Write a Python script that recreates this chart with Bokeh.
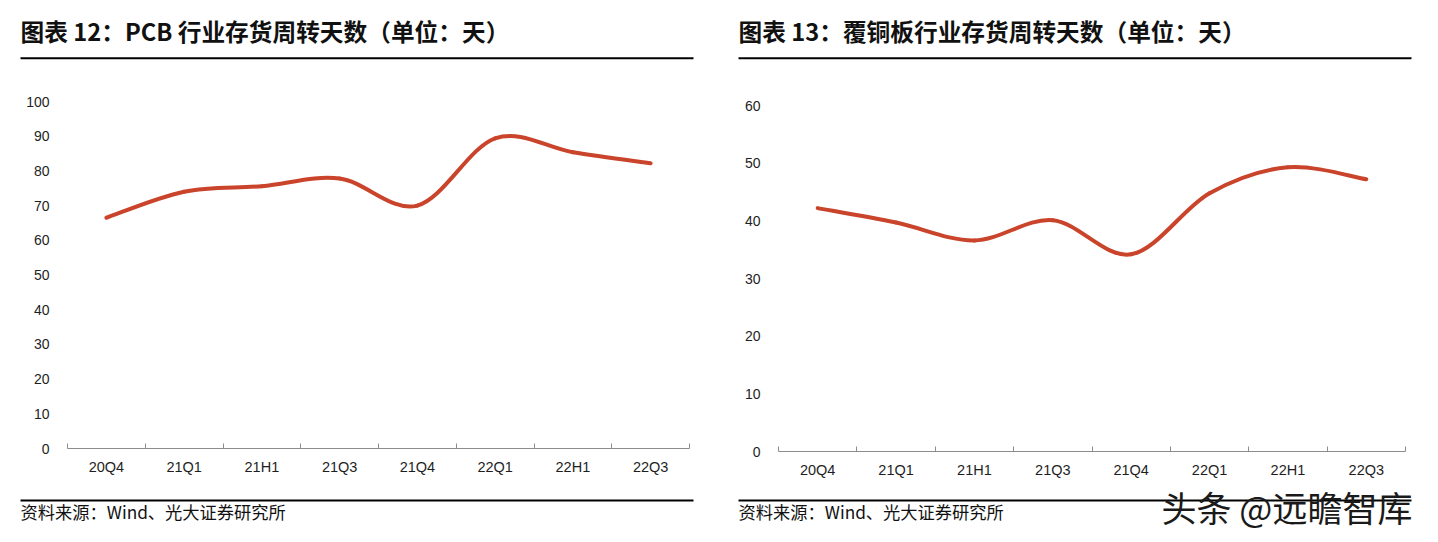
from bokeh.plotting import figure
from bokeh.layouts import column, row
from bokeh.models import Range1d, FixedTicker
from bokeh.core.properties import value
from bokeh.embed import file_html
from bokeh.resources import INLINE

# ---------------- data ----------------
categories = ["20Q4", "21Q1", "21H1", "21Q3", "21Q4", "22Q1", "22H1", "22Q3"]
pcb_days = [66.5, 74.0, 75.6, 77.8, 70.0, 89.4, 85.4, 82.2]
ccl_days = [42.2, 39.7, 36.6, 40.1, 34.2, 44.8, 49.3, 47.2]
left_yticks = [0, 10, 20, 30, 40, 50, 60, 70, 80, 90, 100]
right_yticks = [0, 10, 20, 30, 40, 50, 60]

title_left = "图表 12：PCB 行业存货周转天数（单位：天）"
title_right = "图表 13：覆铜板行业存货周转天数（单位：天）"
source_text = "资料来源：Wind、光大证券研究所"
watermark = "头条 @远瞻智库"

LINE_COLOR = "#C9442B"
AXIS_COLOR = "#8c8c8c"
LABEL_COLOR = "#1e1e1e"
CJK = value("Noto Sans CJK SC")
LAT = "Liberation Sans"
TOTAL_W = 1438
ROW_TOP, ROW_H = 70, 410


def bezier_parts(xs, ys, k=1.0 / 6.0):
    n = len(xs)
    out = dict(x0=[], y0=[], x1=[], y1=[], cx0=[], cy0=[], cx1=[], cy1=[])
    for i in range(n - 1):
        pm = max(i - 1, 0)
        pp = min(i + 2, n - 1)
        out["x0"].append(xs[i]); out["y0"].append(ys[i])
        out["x1"].append(xs[i + 1]); out["y1"].append(ys[i + 1])
        out["cx0"].append(xs[i] + (xs[i + 1] - xs[pm]) * k)
        out["cy0"].append(ys[i] + (ys[i + 1] - ys[pm]) * k)
        out["cx1"].append(xs[i + 1] - (xs[pp] - xs[i]) * k)
        out["cy1"].append(ys[i + 1] - (ys[pp] - ys[i]) * k)
    return out


def chart(vals, yticks, w, bl, br, frame_top, frame_bottom):
    xs = list(range(1, len(categories) + 1))
    p = figure(width=w, height=ROW_H, x_range=Range1d(0.5, len(categories) + 0.5),
               y_range=Range1d(yticks[0], yticks[-1]), output_backend="svg",
               toolbar_location=None, min_border_left=bl, min_border_right=br,
               min_border_top=frame_top - ROW_TOP,
               min_border_bottom=ROW_TOP + ROW_H - frame_bottom, title=None)
    p.grid.visible = False
    p.outline_line_color = None
    p.background_fill_color = "white"
    p.border_fill_color = "white"

    xa = p.xaxis[0]
    xa.ticker = FixedTicker(ticks=xs, minor_ticks=[x - 0.5 for x in xs] + [xs[-1] + 0.5])
    xa.major_label_overrides = {x: c for x, c in zip(xs, categories)}
    xa.axis_label = None
    xa.axis_label_standoff = 0
    xa.axis_line_color = AXIS_COLOR
    xa.axis_line_width = 1
    xa.major_tick_line_color = None
    xa.major_tick_in = 0
    xa.major_tick_out = 0
    xa.minor_tick_line_color = AXIS_COLOR
    xa.minor_tick_in = 5
    xa.minor_tick_out = 0
    xa.major_label_standoff = 10
    xa.major_label_text_font = LAT
    xa.major_label_text_font_size = "14.5px"
    xa.major_label_text_color = LABEL_COLOR

    ya = p.yaxis[0]
    ya.ticker = FixedTicker(ticks=yticks, minor_ticks=[])
    ya.axis_label = None
    ya.axis_line_color = None
    ya.major_tick_line_color = None
    ya.minor_tick_line_color = None
    ya.major_tick_in = 0
    ya.major_tick_out = 0
    ya.major_label_standoff = 18
    ya.major_label_text_font = LAT
    ya.major_label_text_font_size = "14px"
    ya.major_label_text_color = LABEL_COLOR

    b = bezier_parts(xs, vals)
    p.bezier(x0=b["x0"], y0=b["y0"], x1=b["x1"], y1=b["y1"],
             cx0=b["cx0"], cy0=b["cy0"], cx1=b["cx1"], cy1=b["cy1"],
             line_color=LINE_COLOR, line_width=4, line_cap="round")
    return p


def strip(h):
    p = figure(width=TOTAL_W, height=h, x_range=Range1d(0, TOTAL_W), y_range=Range1d(h, 0),
               output_backend="svg", toolbar_location=None, min_border=0, title=None)
    p.axis.visible = False
    p.grid.visible = False
    p.outline_line_color = None
    p.background_fill_color = "white"
    p.border_fill_color = "white"
    return p


# top strip: titles + underlines
top = strip(ROW_TOP)
top.text(x=[20, 738], y=[30, 30], text=[title_left, title_right], text_font=CJK,
         text_font_style="bold", text_font_size="23.7px", text_baseline="middle",
         text_align="left", text_color="#111111")
top.segment(x0=[20, 738], y0=[57.7, 57.7], x1=[693, 1411], y1=[57.7, 57.7],
            line_color="black", line_width=2)

left = chart(pcb_days, left_yticks, w=719, bl=67, br=30, frame_top=101, frame_bottom=448)
right = chart(ccl_days, right_yticks, w=719, bl=59, br=33, frame_top=105, frame_bottom=452)

# bottom strip: source lines + watermark
BOT_TOP = ROW_TOP + ROW_H
bottom = strip(542 - BOT_TOP)
bottom.segment(x0=[20, 738], y0=[500 - BOT_TOP] * 2, x1=[693, 1411], y1=[500 - BOT_TOP] * 2,
               line_color="black", line_width=2)
bottom.text(x=[20, 738], y=[511 - BOT_TOP] * 2, text=[source_text, source_text], text_font=CJK,
            text_font_size="17.25px", text_baseline="middle", text_align="left",
            text_color="#111111")
bottom.text(x=[1161], y=[506 - BOT_TOP], text=[watermark], text_font=CJK, text_font_size="35px",
            text_baseline="middle", text_align="left", text_color="#1a1a1a")

layout = column(top, row(column(left), column(right), spacing=0), bottom, spacing=0)

open("out.html", "w").write(file_html(layout, INLINE))
